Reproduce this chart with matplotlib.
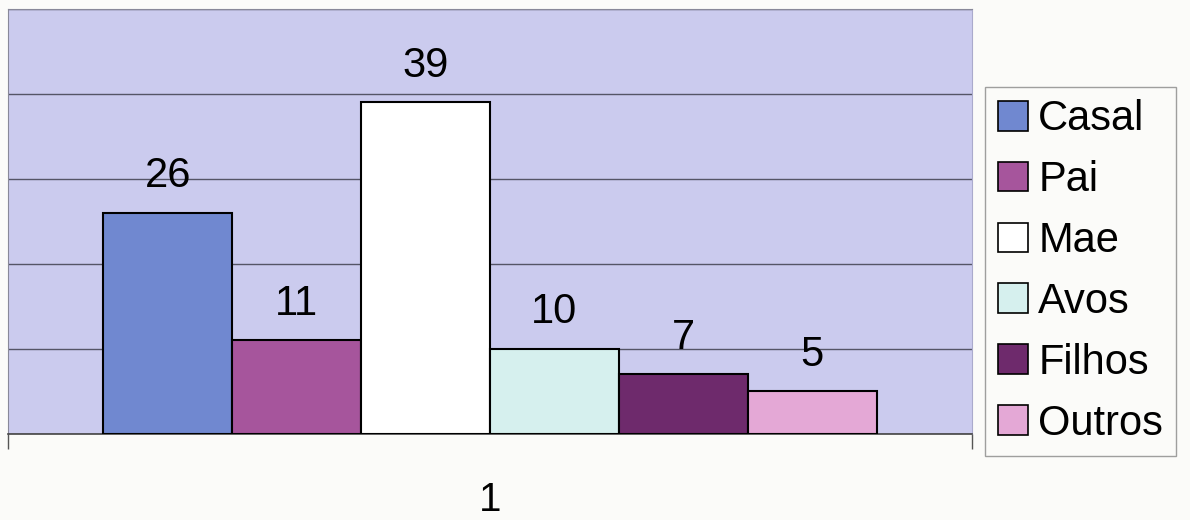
import numpy as np
import matplotlib.pyplot as plt

plt.rcParams['font.family'] = ['Liberation Sans', 'DejaVu Sans']

# Data ........................................................................
categories = ["Casal", "Pai", "Mae", "Avos", "Filhos", "Outros"]
values = [26, 11, 39, 10, 7, 5]
colors = ["#7088d0", "#a6559c", "#ffffff", "#d6f0ee", "#6e2a6c", "#e4a8d6"]
group_label = ["1"]

# Plot ........................................................................
fig = plt.figure(figsize=(11.9, 5.2), dpi=100)
fig.patch.set_facecolor("#fbfbf9")
ax = fig.add_axes([0.0067, 0.1654, 0.81, 0.8173])
ax.set_facecolor("#cbcbee")

n = len(values)
x = np.arange(n) - (n - 1) / 2
for xi, v, c, lab in zip(x, values, colors, categories):
    ax.bar(xi, v, width=1.0, color=c, edgecolor="black", linewidth=1.5,
           label=lab, zorder=3)
    ax.annotate(str(v), (xi, v), xytext=(0, 12), textcoords="offset points",
                ha="center", va="bottom", fontsize=30, zorder=4)

ax.set_xlim(-3.74, 3.74)
ax.set_ylim(0, 50)
ax.set_yticks(np.arange(0, 51, 10))
ax.set_yticklabels([])
ax.tick_params(axis="y", length=0)
ax.grid(axis="y", color="#555566", linewidth=1.0, zorder=1)

ax.set_xticks([0])
ax.set_xticklabels(group_label, fontsize=29)
ax.tick_params(axis="x", which="major", length=0, pad=34)
ax.set_xticks([-3.74, 3.74], minor=True)
ax.tick_params(axis="x", which="minor", length=11, color="#555555", width=1)

for s in ["left", "top"]:
    ax.spines[s].set_color("#888899")
ax.spines["right"].set_color("#aaaacc")
ax.spines["bottom"].set_color("#444444")
ax.spines["bottom"].set_linewidth(1.2)

leg = fig.legend(loc="upper left", bbox_to_anchor=(0.828, 0.833),
                 fontsize=30, frameon=True, fancybox=False,
                 edgecolor="#888888", facecolor="#fbfbf9",
                 handlelength=0.72, handleheight=0.72, handletextpad=0.25,
                 labelspacing=0.5, borderpad=0.3, borderaxespad=0)
for h in leg.legend_handles:
    h.set_linewidth(1.2)

fig.savefig("out.png", dpi=100, facecolor=fig.get_facecolor())
